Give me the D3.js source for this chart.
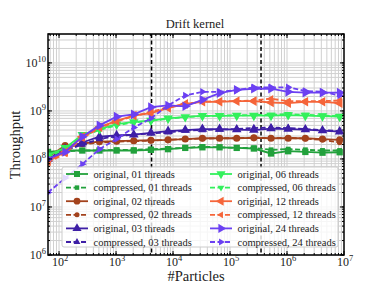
<!DOCTYPE html>
<html>
<head>
<meta charset="utf-8">
<script src="https://cdn.jsdelivr.net/npm/d3@7/dist/d3.min.js"></script>
<style>
  body { margin: 0; background: #fff; }
  text { font-family: "Liberation Serif", "DejaVu Serif", serif; fill: #222; }
</style>
</head>
<body>
<div id="chart"></div>
<script>
// number of particles (powers of two)
var particles = [64, 128, 256, 512, 1024, 2048, 4096, 8192, 16384, 32768, 65536,
                 131072, 262144, 524288, 1048576, 2097152, 4194304, 8388608];

var threadNames = ["01", "02", "03", "06", "12", "24"];

// throughput
var orig01 = [1.4e8, 1.5e8, 1.5e8, 1.5e8, 1.5e8, 1.5e8, 1.55e8, 1.6e8, 1.7e8, 1.75e8, 1.75e8, 1.7e8, 1.65e8, 1.3e8, 1.45e8, 1.4e8, 1.35e8, 1.38e8];
var comp01 = [1.3e8, 1.45e8, 1.5e8, 1.5e8, 1.55e8, 1.55e8, 1.6e8, 1.65e8, 1.7e8, 1.8e8, 1.75e8, 1.7e8, 1.7e8, 1.55e8, 1.6e8, 1.55e8, 1.5e8, 1.5e8];
var orig02 = [1.1e8, 1.9e8, 2.1e8, 2.3e8, 2.35e8, 2.4e8, 2.45e8, 2.5e8, 2.6e8, 2.7e8, 2.7e8, 2.7e8, 2.75e8, 2.7e8, 2.7e8, 2.7e8, 2.6e8, 2.5e8];
var comp02 = [1.0e8, 1.7e8, 2.0e8, 2.2e8, 2.3e8, 2.35e8, 2.4e8, 2.5e8, 2.6e8, 2.65e8, 2.7e8, 2.7e8, 2.8e8, 2.7e8, 2.75e8, 2.65e8, 2.5e8, 2.2e8];
var orig03 = [1.0e8, 1.6e8, 2.2e8, 2.9e8, 3.1e8, 3.2e8, 3.5e8, 3.8e8, 4.0e8, 4.2e8, 4.2e8, 4.1e8, 4.0e8, 4.3e8, 4.2e8, 4.1e8, 3.9e8, 3.7e8];
var comp03 = [0.95e8, 1.5e8, 2.0e8, 2.6e8, 3.0e8, 3.2e8, 3.4e8, 3.6e8, 3.9e8, 4.0e8, 4.1e8, 4.2e8, 4.4e8, 4.5e8, 4.4e8, 4.2e8, 4.0e8, 3.8e8];
var orig06 = [1.2e8, 1.7e8, 3.2e8, 4.2e8, 5.3e8, 5.9e8, 6.3e8, 7.0e8, 7.5e8, 7.9e8, 7.9e8, 8.0e8, 8.0e8, 8.0e8, 8.2e8, 8.0e8, 7.8e8, 7.6e8];
var comp06 = [1.1e8, 1.6e8, 3.0e8, 4.0e8, 5.0e8, 5.8e8, 6.2e8, 6.9e8, 7.4e8, 7.8e8, 8.0e8, 8.1e8, 8.2e8, 8.3e8, 8.6e8, 8.3e8, 8.0e8, 7.9e8];
var orig12 = [0.9e8, 1.4e8, 2.9e8, 4.6e8, 6.2e8, 8.0e8, 9.0e8, 1.15e9, 1.4e9, 1.55e9, 1.55e9, 1.6e9, 1.6e9, 1.5e9, 1.45e9, 1.55e9, 1.55e9, 1.45e9];
var comp12 = [0.85e8, 1.3e8, 2.7e8, 4.4e8, 6.0e8, 7.8e8, 9.5e8, 1.2e9, 1.4e9, 1.55e9, 1.6e9, 1.6e9, 1.65e9, 1.8e9, 1.6e9, 1.6e9, 1.6e9, 1.65e9];
var orig24 = [1.0e8, 1.4e8, 2.9e8, 5.0e8, 7.6e8, 8.5e8, 1.2e9, 1.3e9, 1.25e9, 1.7e9, 2.35e9, 2.75e9, 2.9e9, 2.9e9, 2.5e9, 2.4e9, 2.4e9, 2.4e9];
var comp24 = [2.0e7, 4.0e7, 7.8e7, 1.6e8, 2.6e8, 4.5e8, 7.0e8, 1.3e9, 2.1e9, 2.5e9, 2.5e9, 2.7e9, 3.1e9, 3.1e9, 3.1e9, 2.6e9, 2.5e9, 2.1e9];

// cache boundaries (dashed vertical lines)
var cacheLines = [4200, 350000];

var xTicks = [1e2, 1e3, 1e4, 1e5, 1e6, 1e7];
var yTicks = [1e6, 1e7, 1e8, 1e9, 1e10];

;(function(d3){
  var colors = ["#22a13c", "#a3421c", "#3e1fa6", "#33f05c", "#f5653a", "#6b40f2"];
  var markers = ["square", "circle", "up", "down", "left", "right"];
  var origData = [orig01, orig02, orig03, orig06, orig12, orig24];
  var compData = [comp01, comp02, comp03, comp06, comp12, comp24];

  var width = 382, height = 287;
  var pLeft = 48, pRight = 344, pTop = 34, pBottom = 255;

  var svg = d3.select("#chart").append("svg")
      .attr("width", width)
      .attr("height", height);

  var x = d3.scaleLog().domain([64, 1e7]).range([pLeft, pRight]);
  var y = d3.scaleLog().domain([1e6, 4e10]).range([pBottom, pTop]);

  svg.append("defs").append("clipPath").attr("id", "clip")
    .append("rect")
      .attr("x", pLeft).attr("y", pTop)
      .attr("width", pRight - pLeft).attr("height", pBottom - pTop);

  // minor + major ticks
  function allTicks(lo, hi) {
    var t = [];
    for (var e = lo; e <= hi; e++) {
      for (var m = 1; m < 10; m++) t.push(m * Math.pow(10, e));
    }
    return t;
  }
  var xAll = allTicks(1, 6).filter(function(d) { return d >= 64 && d <= 1e7; });
  var yAll = allTicks(6, 10).filter(function(d) { return d >= 1e6 && d <= 4e10; });

  //网格
  var grid = svg.append("g").attr("class", "grid");
  grid.selectAll(".gx").data(xAll).enter().append("line")
      .attr("x1", function(d) { return x(d); }).attr("x2", function(d) { return x(d); })
      .attr("y1", pTop).attr("y2", pBottom)
      .attr("stroke", "#d0d0d0").attr("stroke-width", 1);
  grid.selectAll(".gy").data(yAll).enter().append("line")
      .attr("y1", function(d) { return y(d); }).attr("y2", function(d) { return y(d); })
      .attr("x1", pLeft).attr("x2", pRight)
      .attr("stroke", "#d0d0d0").attr("stroke-width", 1);

  // cache lines
  svg.append("g").selectAll("line").data(cacheLines).enter().append("line")
      .attr("x1", function(d) { return x(d); }).attr("x2", function(d) { return x(d); })
      .attr("y1", pTop).attr("y2", pBottom)
      .attr("stroke", "#000").attr("stroke-width", 1.5)
      .attr("stroke-dasharray", "4,2.5");

  function markerPath(type, size) {
    if (type == "square") return d3.symbol().type(d3.symbolSquare).size(size)();
    if (type == "circle") return d3.symbol().type(d3.symbolCircle).size(size)();
    return d3.symbol().type(d3.symbolTriangle).size(size)();
  }
  function markerRotate(type) {
    return { up: 0, down: 180, left: -90, right: 90 }[type] || 0;
  }

  var line = d3.line()
      .x(function(d, i) { return x(particles[i]); })
      .y(function(d) { return y(d); });

  var plot = svg.append("g").attr("clip-path", "url(#clip)");

  function drawSeries(values, k, dashed) {
    var g = plot.append("g");
    g.append("path")
        .attr("d", line(values))
        .attr("fill", "none")
        .attr("stroke", colors[k])
        .attr("stroke-width", 1.8)
        .attr("stroke-dasharray", dashed ? "5,2.5" : null);
    g.selectAll("path.m").data(values).enter().append("path")
        .attr("class", "m")
        .attr("d", markerPath(markers[k], dashed ? 24 : 40))
        .attr("fill", colors[k])
        .attr("transform", function(d, i) {
          return "translate(" + x(particles[i]) + "," + y(d) + ") rotate(" + markerRotate(markers[k]) + ")";
        });
  }

  for (var k = 0; k < threadNames.length; k++) {
    drawSeries(origData[k], k, false);
    drawSeries(compData[k], k, true);
  }

  // frame + ticks (inward on all sides)
  var frame = svg.append("g");
  function tickLines(vals, len, horiz) {
    vals.forEach(function(v) {
      if (horiz) {
        var px = x(v);
        frame.append("line").attr("x1", px).attr("x2", px).attr("y1", pBottom).attr("y2", pBottom - len).attr("stroke", "#000");
        frame.append("line").attr("x1", px).attr("x2", px).attr("y1", pTop).attr("y2", pTop + len).attr("stroke", "#000");
      } else {
        var py = y(v);
        frame.append("line").attr("y1", py).attr("y2", py).attr("x1", pLeft).attr("x2", pLeft + len).attr("stroke", "#000");
        frame.append("line").attr("y1", py).attr("y2", py).attr("x1", pRight).attr("x2", pRight - len).attr("stroke", "#000");
      }
    });
  }
  tickLines(xAll, 2, true);
  tickLines(xTicks, 4, true);
  tickLines(yAll, 2, false);
  tickLines(yTicks, 4, false);

  frame.append("rect")
      .attr("x", pLeft).attr("y", pTop)
      .attr("width", pRight - pLeft).attr("height", pBottom - pTop)
      .attr("fill", "none").attr("stroke", "#000").attr("stroke-width", 1.5);

  // tick labels
  function expLabel(sel, v) {
    var e = Math.round(Math.log10(v));
    sel.append("tspan").text("10");
    sel.append("tspan").attr("dy", -5).attr("font-size", 8.5).text(e);
  }
  svg.append("g").selectAll("text").data(xTicks).enter().append("text")
      .attr("x", function(d) { return x(d) + 1; })
      .attr("y", 266)
      .attr("text-anchor", "middle")
      .attr("font-size", 12)
      .each(function(d) { expLabel(d3.select(this), d); });
  svg.append("g").selectAll("text").data(yTicks).enter().append("text")
      .attr("x", 46)
      .attr("y", function(d) { return y(d) + 4; })
      .attr("text-anchor", "end")
      .attr("font-size", 12)
      .each(function(d) { expLabel(d3.select(this), d); });

  // titles
  svg.append("text").attr("x", 195).attr("y", 28)
      .attr("text-anchor", "middle").attr("font-size", 12.5).text("Drift kernel");
  svg.append("text").attr("x", 196).attr("y", 281)
      .attr("text-anchor", "middle").attr("font-size", 14.5).text("#Particles");
  svg.append("text")
      .attr("transform", "translate(20,145) rotate(-90)")
      .attr("text-anchor", "middle").attr("font-size", 14.5).text("Throughput");

  // legend
  var legend = svg.append("g");
  legend.append("rect")
      .attr("x", 62).attr("y", 167).attr("width", 276).attr("height", 80)
      .attr("rx", 2)
      .attr("fill", "#fff").attr("fill-opacity", 0.8)
      .attr("stroke", "#ccc").attr("stroke-width", 1);

  var items = [];
  threadNames.forEach(function(t, k) {
    items.push({ k: k, dashed: false, label: "original, " + t + " threads" });
    items.push({ k: k, dashed: true, label: "compressed, " + t + " threads" });
  });

  items.forEach(function(it, i) {
    var col = Math.floor(i / 6), row = i % 6;
    var lx = col ? 210 : 66;
    var ly = 174 + row * 13.6;
    var g = legend.append("g");
    g.append("line")
        .attr("x1", lx).attr("x2", lx + 22).attr("y1", ly).attr("y2", ly)
        .attr("stroke", colors[it.k]).attr("stroke-width", 1.8)
        .attr("stroke-dasharray", it.dashed ? "5,2.5" : null);
    g.append("path")
        .attr("d", markerPath(markers[it.k], it.dashed ? 20 : 36))
        .attr("fill", colors[it.k])
        .attr("transform", "translate(" + (lx + 11) + "," + ly + ") rotate(" + markerRotate(markers[it.k]) + ")");
    g.append("text")
        .attr("x", lx + 27.5).attr("y", ly + 3.5)
        .attr("font-size", 10.5)
        .text(it.label);
  });
})(d3);
</script>
</body>
</html>
